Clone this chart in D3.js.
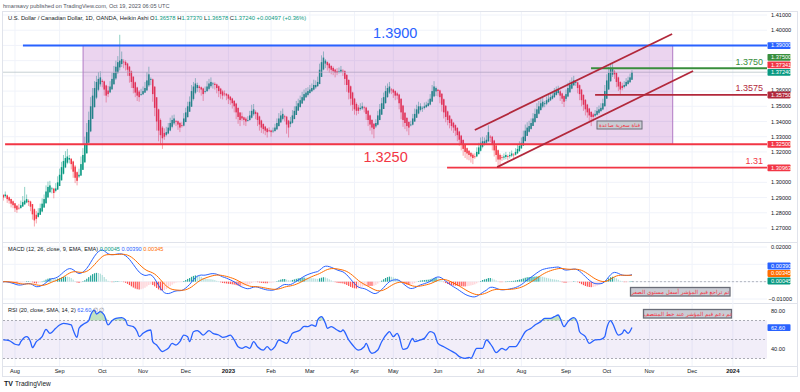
<!DOCTYPE html>
<html><head><meta charset="utf-8">
<script src="https://cdn.jsdelivr.net/npm/d3@7"></script>
<style>body{margin:0;background:#fff;}svg{display:block;font-family:"Liberation Sans",Arial,sans-serif;}</style>
</head><body><svg id="c" width="800" height="392"></svg>
<script>
// ---------------- DATA ----------------
const startDate = new Date(2022, 6, 21);
const endDate = new Date(2024, 1, 20);
const firstOpen = 1.2925;
// Heikin Ashi closes, one per trading day (Jul 21 2022 .. Oct 19 2023)
const closes = [
1.291,1.290,1.292,1.289,1.288,1.286,1.285,1.283,1.282,1.283,
1.285,1.287,1.288,1.289,1.287,1.284,1.279,1.275,1.276,1.280,
1.283,1.286,1.289,1.294,1.297,1.298,1.296,1.293,1.296,1.300,
1.305,1.310,1.314,1.316,1.317,1.316,1.312,1.307,1.303,1.301,
1.305,1.312,1.318,1.325,1.333,1.341,1.350,1.357,1.362,1.366,
1.368,1.369,1.366,1.361,1.357,1.358,1.363,1.368,1.372,1.376,
1.379,1.380,1.381,1.379,1.377,1.374,1.370,1.366,1.362,1.359,
1.357,1.356,1.358,1.360,1.362,1.367,1.371,1.368,1.358,1.349,
1.340,1.334,1.331,1.329,1.330,1.333,1.336,1.339,1.341,1.342,
1.340,1.338,1.336,1.337,1.342,1.346,1.350,1.353,1.360,1.363,
1.365,1.364,1.362,1.361,1.358,1.360,1.363,1.365,1.366,1.365,
1.364,1.362,1.360,1.358,1.357,1.358,1.357,1.355,1.354,1.352,
1.350,1.346,1.343,1.341,1.342,1.341,1.340,1.341,1.344,1.347,
1.348,1.345,1.341,1.338,1.336,1.335,1.334,1.333,1.334,1.333,
1.334,1.336,1.339,1.342,1.344,1.345,1.343,1.338,1.336,1.340,
1.344,1.347,1.350,1.352,1.354,1.356,1.358,1.359,1.360,1.361,
1.362,1.364,1.364,1.366,1.374,1.379,1.382,1.380,1.377,1.375,
1.374,1.373,1.372,1.372,1.373,1.374,1.373,1.368,1.364,1.359,
1.355,1.351,1.348,1.347,1.347,1.349,1.350,1.349,1.345,1.341,
1.338,1.336,1.335,1.339,1.344,1.348,1.352,1.356,1.360,1.362,
1.363,1.361,1.359,1.357,1.357,1.352,1.346,1.341,1.339,1.337,
1.336,1.338,1.342,1.345,1.348,1.350,1.350,1.349,1.350,1.351,
1.352,1.355,1.360,1.363,1.362,1.360,1.356,1.351,1.346,1.343,
1.341,1.339,1.337,1.336,1.334,1.331,1.328,1.325,1.322,1.320,
1.319,1.318,1.317,1.316,1.317,1.320,1.323,1.326,1.327,1.327,
1.328,1.333,1.330,1.325,1.321,1.318,1.315,1.315,1.316,1.317,
1.318,1.317,1.318,1.319,1.318,1.320,1.322,1.324,1.326,1.330,
1.334,1.336,1.337,1.339,1.342,1.345,1.348,1.350,1.352,1.353,
1.352,1.354,1.355,1.356,1.357,1.359,1.360,1.361,1.357,1.355,
1.353,1.358,1.362,1.364,1.366,1.367,1.366,1.362,1.358,1.354,
1.351,1.348,1.346,1.344,1.343,1.343,1.345,1.347,1.348,1.349,
1.352,1.360,1.367,1.372,1.375,1.375,1.371,1.366,1.363,1.361,
1.362,1.364,1.366,1.367,1.369,1.3724];
// upper / lower wick lengths in pips (1e-4)
const wickUp = [
10,5,20,5,5,0,5,0,5,25, 30,40,90,30,10,5,0,5,25,30, 30,35,30,40,35,30,10,5,35,40,
40,35,40,45,50,20,5,5,10,5, 40,50,45,50,60,55,60,50,45,40, 45,40,10,5,5,30,35,40,45,40,
40,170,50,15,10,5,5,5,0,5, 5,10,35,30,40,55,50,10,5,5, 0,5,10,10,30,35,30,35,30,25,
5,5,5,20,35,30,30,35,40,30, 35,15,10,5,5,30,35,30,30,10, 10,5,5,5,10,20,5,5,5,5,
5,5,5,0,25,5,10,25,30,40, 35,10,5,5,5,5,5,5,20,5, 20,25,30,35,30,35,10,5,5,30,
35,30,35,30,30,35,30,30,25,30, 30,35,30,35,40,45,40,10,5,5, 5,10,5,20,25,25,10,5,5,5,
5,5,5,10,15,30,25,10,5,5, 5,5,5,25,30,35,35,30,35,30, 30,10,5,5,10,5,5,5,5,5,
5,25,30,35,30,30,20,10,25,20, 25,30,40,35,10,5,5,5,5,5, 5,5,5,5,5,5,5,5,5,5,
5,5,5,10,20,30,30,35,30,25, 30,45,10,5,5,5,5,10,15,20, 20,10,20,20,10,25,30,30,35,40,
40,35,35,30,35,35,40,35,30,30, 15,25,25,25,25,30,30,25,10,5, 5,30,35,30,30,30,10,5,5,5,
5,5,5,5,5,10,25,25,25,30, 30,40,40,40,35,30,10,5,5,5, 20,25,25,25,25,13];
const wickDn = [
20,20,10,25,20,25,20,25,20,10, 5,0,5,5,25,30,35,40,30,5, 0,5,0,0,5,5,30,35,10,0,
0,0,5,5,10,25,35,40,35,30, 10,0,0,0,0,0,5,0,0,10, 10,15,35,40,45,20,5,0,5,10,
10,20,20,40,35,40,45,40,35,30, 35,30,10,5,0,5,10,35,50,55, 60,70,65,70,20,10,5,5,10,10,
30,35,30,10,5,0,0,0,0,10, 10,25,30,40,45,15,5,10,10,30, 30,35,40,30,25,15,30,35,30,35,
40,45,45,40,15,35,30,10,5,5, 10,35,40,40,35,30,30,35,10,30, 10,5,5,0,5,10,30,60,65,20,
5,0,0,0,5,0,5,5,10,5, 5,5,10,5,0,0,5,30,35,30, 30,25,30,15,10,10,30,40,45,45,
45,40,35,30,20,10,10,30,40,40, 40,45,60,10,5,0,0,0,5,5, 10,30,35,30,25,40,45,45,40,35,
50,10,5,0,0,5,10,25,10,5, 5,5,0,5,30,35,40,45,40,35, 35,35,30,35,35,40,40,40,45,40,
40,35,40,40,15,5,0,5,10,10, 10,5,35,40,40,45,50,50,20,15, 15,25,15,10,20,5,5,5,0,0,
0,0,5,5,0,0,0,5,5,10, 20,10,5,5,5,5,5,10,35,35, 35,15,5,5,5,5,20,35,40,40,
40,40,35,45,60,30,10,5,10,5, 5,0,0,0,5,15,30,35,30,30, 15,10,5,5,5,0];
// RSI: bar index / value
const rsiBar = [1,4,7,9,10,13,15,16,18,21,23,25,28,30,32,36,37,39,40,43,45,46,48,49,51,52,53,55,57,59,62,64,65,68,70,71,73,77,78,80,83,84,86,88,90,92,94,96,97,99,101,102,104,107,109,112,114,116,118,120,122,124,126,128,130,132,135,137,139,141,143,145,147,149,150,154,156,158,160,162,163,165,167,168,170,173,175,176,179,181,184,187,188,190,191,194,196,199,200,202,204,205,207,209,212,213,216,218,221,223,225,228,231,234,236,239,241,242,245,248,250,253,255,258,260,262,265,267,270,273,275,278,280,283,285,287,288,290,292,295,297,298,301,303,306,309,311,312,314,315,318,320,321,323,325];
const rsiVal = [49.5,48.8,45,44.2,47.7,53,47.7,41.4,47.7,53,60.7,56.5,61.8,65.3,67,65.3,60,52.3,61.8,67,69.8,75.8,81,76.8,79.3,78.2,75.8,65.3,69.8,72.3,73,70.5,65.3,63.5,58.2,53,56.5,60,47.7,44.2,37.2,38.2,40.7,45.9,44.2,47.7,54.7,53,47.7,58.2,59.3,58.2,54.7,59.3,56.5,54.7,52.3,53,54.7,49.5,42.4,40.7,42.4,40.7,47.7,42.4,38.9,42.4,38.9,42.4,49.5,47.7,45.9,53,56.5,60,63.9,63.5,65.3,63.9,70.5,74,67,61.8,63.5,60,58.2,60,49.5,44.2,38.9,42.4,45.9,37.2,35.5,38.9,47.7,56.5,58.2,53,56.5,53,39.6,40.7,51.2,47.7,49.5,51.2,58.2,56.5,46,42.4,38.9,35.5,32,30.2,31.2,30.2,40.7,40.7,49.5,42.4,36.1,40.7,38.9,42.4,42.4,47.7,58.2,61.8,65.3,68.8,72.3,72.3,74,75.8,72.3,63.5,68.8,73,67,58.2,53,46,49.5,50.2,53,61.8,69.8,67,54.7,56.5,60,56.5,62.6];
const monthStarts = ["2022-08-01","2022-09-01","2022-10-01","2022-11-01","2022-12-01","2023-01-01","2023-02-01","2023-03-01","2023-04-01","2023-05-01","2023-06-01","2023-07-01","2023-08-01","2023-09-01","2023-10-01","2023-11-01","2023-12-01","2024-01-01"];
const monthLabels = ["Aug","Sep","Oct","Nov","Dec","2023","Feb","Mar","Apr","May","Jun","Jul","Aug","Sep","Oct","Nov","Dec","2024"];
const priceTicks = [1.27,1.28,1.29,1.30,1.31,1.32,1.33,1.34,1.35,1.36,1.37,1.38,1.39,1.40,1.41];
const hiddenPriceTicks = [1.31,1.37,1.38,1.39];
const legendOHLC = ["1.36578","1.37370","1.36578","1.37240"];
const macdLegend = ["0.00045","0.00390","0.00345"];
const rsiLast = 62.60;
// drawings (price levels and anchor bars)
const levelBlue = 1.39, levelRed = 1.325, level131 = 1.30963, levelGreen = 1.375, level3575 = 1.3575, lastPriceTag = 1.37341;
const channelUpper = [[244,1.3344],[345.7,1.3975]];
const channelLower = [[255.5,1.3100],[356.5,1.3732]];
const boxBars = [42.1, 346];

// ---------------- LAYOUT ----------------
const svg = d3.select("#c");
const PL = 3, PR = 767;
const panes = {main:[11,242], macd:[242,303], rsi:[303,366]};
const x = d3.scaleLinear().domain([-0.72, 394.6]).range([0, 767]);
const y = d3.scaleLinear().domain([1.27, 1.41]).range([228, 15]);
const yM = d3.scaleLinear().domain([-0.01, 0.02]).range([299, 247]);
const yR = d3.scaleLinear().domain([40, 80]).range([349, 311]);
const UP = "#089981", DN = "#f23645";

const dates = d3.timeDay.range(startDate, endDate).filter(d => d.getDay() !== 0 && d.getDay() !== 6);
const idxOf = s => { const t = new Date(s + "T00:00:00"); return dates.findIndex(d => d >= t); };

const defs = svg.append("defs");
Object.entries(panes).forEach(([k, [t, b]]) => {
  defs.append("clipPath").attr("id", "clip-" + k).append("rect").attr("x", PL).attr("y", t).attr("width", PR - PL).attr("height", b - t);
});

// frame
svg.append("rect").attr("x", 2.5).attr("y", 11.5).attr("width", 795).attr("height", 365).attr("fill", "none").attr("stroke", "#e0e3eb");
[242, 303, 366].forEach(v => svg.append("line").attr("x1", 3).attr("x2", 797).attr("y1", v + 0.5).attr("y2", v + 0.5).attr("stroke", "#e0e3eb"));

// vertical grid
const monthIdx = monthStarts.map(idxOf);
monthIdx.forEach(i => svg.append("line").attr("x1", x(i)).attr("x2", x(i)).attr("y1", 12).attr("y2", 366).attr("stroke", "#f0f3fa"));
// horizontal grids
const gMain = svg.append("g").attr("clip-path", "url(#clip-main)");
priceTicks.forEach(p => gMain.append("line").attr("x1", PL).attr("x2", PR).attr("y1", y(p)).attr("y2", y(p)).attr("stroke", "#f0f3fa"));
[0.02, 0.01, 0, -0.01].forEach(v => svg.append("line").attr("x1", PL).attr("x2", PR).attr("y1", yM(v)).attr("y2", yM(v)).attr("stroke", "#f0f3fa"));

// ---------------- CANDLES ----------------
const opens = [];
closes.forEach((c, i) => { opens[i] = i === 0 ? firstOpen : (opens[i - 1] + closes[i - 1]) / 2; });
const bars = closes.map((c, i) => {
  const o = opens[i];
  const top = Math.max(o, c), bot = Math.min(o, c);
  return {i, o, c, hi: top + wickUp[i] / 1e4, lo: bot - wickDn[i] / 1e4, up: c >= o};
});
const gC = gMain.append("g");
gC.selectAll("line.w").data(bars).join("line").attr("class", "w")
  .attr("x1", d => x(d.i)).attr("x2", d => x(d.i)).attr("y1", d => y(d.hi)).attr("y2", d => y(d.lo))
  .attr("stroke", d => d.up ? UP : DN).attr("stroke-opacity", 0.45).attr("stroke-width", 1);
gC.selectAll("rect.b").data(bars).join("rect").attr("class", "b")
  .attr("x", d => x(d.i) - 0.75).attr("width", 1.5)
  .attr("y", d => y(Math.max(d.o, d.c)))
  .attr("height", d => Math.max(0.8, Math.abs(y(d.o) - y(d.c))))
  .attr("fill", d => d.up ? UP : DN);

// last price line
gMain.append("line").attr("x1", PL).attr("x2", PR).attr("y1", y(closes[closes.length - 1])).attr("y2", y(closes[closes.length - 1]))
  .attr("stroke", "#b7c4c8").attr("stroke-width", 0.8);

// ---------------- DRAWINGS ----------------
gMain.append("rect").attr("x", x(boxBars[0])).attr("width", x(boxBars[1]) - x(boxBars[0]))
  .attr("y", y(levelBlue)).attr("height", y(levelRed) - y(levelBlue))
  .attr("fill", "rgba(156,39,176,0.2)").attr("stroke", "#b27ac4").attr("stroke-width", 1);
const hline = (p, i0, col, w) => gMain.append("line").attr("x1", x(i0)).attr("x2", PR).attr("y1", y(p)).attr("y2", y(p)).attr("stroke", col).attr("stroke-width", w);
hline(levelBlue, 11.1, "#2962ff", 2);
hline(levelRed, 1.9, "#f23645", 2);
hline(level131, 229.7, "#f23645", 1.8);
hline(levelGreen, 303.9, "#388e3c", 1.8);
hline(level3575, 306, "#b2283b", 1.8);
[channelUpper, channelLower].forEach(seg => gMain.append("line")
  .attr("x1", x(seg[0][0])).attr("y1", y(seg[0][1])).attr("x2", x(seg[1][0])).attr("y2", y(seg[1][1]))
  .attr("stroke", "#b2283b").attr("stroke-width", 1.8));

const bigText = (t, xx, p, dy, col, size) => svg.append("text").attr("x", xx).attr("y", y(p) + dy).attr("text-anchor", "middle")
  .attr("fill", col).attr("font-size", size).attr("font-weight", 500).text(t);
bigText("1.3900", x(203), levelBlue, -7, "#2962ff", 14.5);
bigText("1.3250", x(198), levelRed, 18, "#f23645", 14.5);
bigText("1.3750", x(385.4), levelGreen, -3.5, "#388e3c", 9);
bigText("1.3575", x(385.4), level3575, -3.5, "#b2283b", 9);
bigText("1.31", x(388), level131, -4, "#f23645", 9);

const noteBox = (txt, x0, y0, w, h, fs, sw) => {
  svg.append("rect").attr("x", x0).attr("y", y0).attr("width", w).attr("height", h)
    .attr("fill", "#c9ccd4").attr("stroke", "#6a6d78").attr("stroke-width", sw);
  svg.append("text").attr("x", x0 + w / 2).attr("y", y0 + h / 2 + fs * 0.35).attr("text-anchor", "middle")
    .attr("direction", "rtl").attr("font-family", "DejaVu Sans").attr("font-size", fs).attr("fill", "#f23645").text(txt);
};
noteBox("قناة سعرية صاعدة", 597, 121, 45, 8, 5.3, 1);

// ---------------- MACD ----------------
const ema = (arr, n) => { const k = 2 / (n + 1); const out = []; arr.forEach((v, i) => out.push(i ? v * k + out[i - 1] * (1 - k) : v)); return out; };
const e12 = ema(closes, 12), e26 = ema(closes, 26);
const macd = e12.map((v, i) => v - e26[i]);
const sig = ema(macd, 9);
const hist = macd.map((v, i) => v - sig[i]);
const gM = svg.append("g").attr("clip-path", "url(#clip-macd)");
gM.selectAll("rect").data(hist).join("rect")
  .attr("x", (d, i) => x(i) - 0.6).attr("width", 1.2)
  .attr("y", d => Math.min(yM(d), yM(0))).attr("height", d => Math.max(0.5, Math.abs(yM(d) - yM(0))))
  .attr("fill", (d, i) => { const p = i ? hist[i - 1] : d; return d >= 0 ? (d >= p ? "#26a69a" : "#b2dfdb") : (d < p ? "#ff5252" : "#ffcdd2"); });
const lineM = d3.line().x((d, i) => x(i)).y(d => yM(d));
gM.append("path").attr("d", lineM(macd)).attr("fill", "none").attr("stroke", "#2962ff").attr("stroke-width", 1);
gM.append("path").attr("d", lineM(sig)).attr("fill", "none").attr("stroke", "#ff6d00").attr("stroke-width", 1);
gM.append("line").attr("x1", x(closes.length - 1)).attr("x2", PR).attr("y1", yM(0)).attr("y2", yM(0))
  .attr("stroke", "#a0a4ae").attr("stroke-dasharray", "2,2").attr("stroke-width", 0.8);
noteBox("تم تراجع قيم المؤشر أسفل مستوى الصفر", 630.5, 287.5, 99.5, 8.5, 5.6, 1.3);

// ---------------- RSI ----------------
const gR = svg.append("g").attr("clip-path", "url(#clip-rsi)");
gR.append("rect").attr("x", PL).attr("width", PR - PL).attr("y", yR(70)).attr("height", yR(30) - yR(70)).attr("fill", "rgba(126,87,194,0.1)");
[70, 50, 30].forEach(v => gR.append("line").attr("x1", PL).attr("x2", PR).attr("y1", yR(v)).attr("y2", yR(v))
  .attr("stroke", "#9598a1").attr("stroke-dasharray", "2,2").attr("stroke-width", 0.8));
const rsiPts = rsiBar.map((b, k) => [b, rsiVal[k]]);
gR.append("path").attr("d", d3.area().x(d => x(d[0])).y0(yR(70)).y1(d => yR(Math.max(70, d[1])))(rsiPts)).attr("fill", "rgba(76,175,80,0.35)");
gR.append("path").attr("d", d3.line().x(d => x(d[0])).y(d => yR(d[1])).curve(d3.curveMonotoneX)(rsiPts))
  .attr("fill", "none").attr("stroke", "#2962ff").attr("stroke-width", 1.3);
noteBox("تم دعم قيم المؤشر عند خط المنتصف", 643.5, 309.5, 88, 8.5, 5.6, 1.3);

// ---------------- AXES / LABELS ----------------
const AX = 771, FS = 5.6;
priceTicks.filter(p => !hiddenPriceTicks.includes(p)).forEach(p =>
  svg.append("text").attr("x", AX).attr("y", y(p) + (p === 1.36 ? 0.6 : 2)).attr("font-size", FS).attr("fill", "#131722").text(d3.format(".5f")(p)));
[[0.02, "0.02000"], [-0.01, "\u22120.01000"]].forEach(([v, t]) =>
  svg.append("text").attr("x", AX - (v < 0 ? 2.5 : 0)).attr("y", yM(v) + 2).attr("font-size", FS).attr("fill", "#131722").text(t));
[[80, "80.00"], [40, "40.00"]].forEach(([v, t]) =>
  svg.append("text").attr("x", AX).attr("y", yR(v) + 2).attr("font-size", FS).attr("fill", "#131722").text(t));

const tag = (t, yy, col) => {
  svg.append("rect").attr("x", 767.5).attr("y", yy - 3.3).attr("width", 23).attr("height", 6.8).attr("rx", 0.8).attr("fill", col);
  svg.append("text").attr("x", AX).attr("y", yy + 2).attr("font-size", FS).attr("fill", "#fff").text(t);
};
const stack = (items, H) => { items.sort((a, b) => b.yy - a.yy); for (let k = 1; k < items.length; k++) if (items[k].yy > items[k - 1].yy - H) items[k].yy = items[k - 1].yy - H; return items; };
stack([
  {t: "1.39000", yy: y(levelBlue), c: "#2962ff"},
  {t: "1.37500", yy: y(levelGreen), c: "#388e3c"},
  {t: "1.37341", yy: y(lastPriceTag), c: "#f23645"},
  {t: "1.37240", yy: y(closes[closes.length - 1]), c: "#089981"},
  {t: "1.35750", yy: y(level3575), c: "#b2283b"},
  {t: "1.32500", yy: y(levelRed), c: "#f23645"},
  {t: "1.30963", yy: y(level131), c: "#f23645"}
], 7.5).forEach(d => tag(d.t, d.yy, d.c));
stack([
  {t: macdLegend[1], yy: yM(+macdLegend[1]), c: "#2962ff"},
  {t: macdLegend[2], yy: yM(+macdLegend[2]), c: "#ff6d00"},
  {t: macdLegend[0], yy: yM(+macdLegend[0]), c: "#089981"}
], 7.5).forEach(d => tag(d.t, d.yy, d.c));
tag(rsiLast.toFixed(2), yR(rsiLast), "#2962ff");

monthIdx.forEach((i, k) => svg.append("text").attr("x", x(i)).attr("y", 373).attr("text-anchor", "middle")
  .attr("font-size", monthLabels[k].length === 4 ? 6 : 5.6).attr("font-weight", monthLabels[k].length === 4 ? "bold" : "normal")
  .attr("fill", "#131722").text(monthLabels[k]));

// header & legends
svg.append("text").attr("x", 3).attr("y", 7.5).attr("font-size", 5.6).attr("fill", "#50535e").text("hmansavy published on TradingView.com, Oct 19, 2023 06:05 UTC");
const leg = svg.append("text").attr("x", 8).attr("y", 20).attr("font-size", 5.8).attr("fill", "#131722");
leg.append("tspan").text("U.S. Dollar / Canadian Dollar, 1D, OANDA, Heikin Ashi  ");
["O", "H", "L", "C"].forEach((l, k) => { leg.append("tspan").text(l); leg.append("tspan").attr("fill", UP).text(legendOHLC[k] + " "); });
leg.append("tspan").attr("fill", UP).text("+0.00497 (+0.36%)");
const ml = svg.append("text").attr("x", 8).attr("y", 250.5).attr("font-size", 5.6).attr("fill", "#131722");
ml.append("tspan").text("MACD (12, 26, close, 9, EMA, EMA) ");
[["#089981", macdLegend[0]], ["#2962ff", macdLegend[1]], ["#ff6d00", macdLegend[2]]].forEach(([c, t]) => ml.append("tspan").attr("fill", c).text(t + " "));
const rl = svg.append("text").attr("x", 8).attr("y", 311.5).attr("font-size", 5.6).attr("fill", "#131722");
rl.append("tspan").text("RSI (20, close, SMA, 14, 2) ");
rl.append("tspan").attr("fill", "#2962ff").text(rsiLast.toFixed(2) + " ");
rl.append("tspan").attr("fill", "#787b86").text("\u2205 \u2205");

// TradingView logo
svg.append("text").attr("x", 4).attr("y", 386).attr("font-size", 7).attr("font-weight", "bold").attr("fill", "#131722").text("TV");
svg.append("text").attr("x", 15).attr("y", 386).attr("font-size", 6.5).attr("fill", "#131722").text("TradingView");
</script></body></html>
